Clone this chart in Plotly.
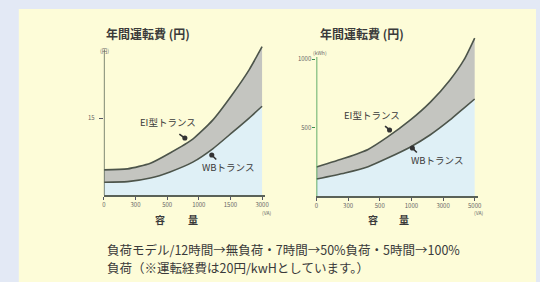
import plotly.graph_objects as go

# ---------------- data ----------------
tick_pos = [0, 1, 2, 3, 4, 5]
left_tick_labels = ["0", "300", "500", "1000", "1500", "3000"]
right_tick_labels = ["0", "300", "500", "1000", "3000", "5000"]

left_x = [0, 0.75, 1.47, 2.09, 2.81, 3.44, 4.06, 4.59, 5.0]
left_ei = [4.9, 5.1, 6.2, 8.2, 10.9, 14.6, 19.6, 24.4, 28.9]
left_wb = [2.5, 2.6, 3.3, 4.5, 6.4, 9.0, 12.2, 15.0, 17.3]

right_x = [0, 0.9, 1.63, 2.25, 2.97, 3.6, 4.22, 4.66, 5.0]
right_ei = [212, 277, 340, 431, 555, 685, 847, 993, 1153]
right_wb = [124, 168, 214, 277, 358, 447, 555, 642, 708]

title_text = "年間運転費 (円)"
ei_name = "EI型トランス"
wb_name = "WBトランス"
note1 = "負荷モデル/12時間→無負荷・7時間→50%負荷・5時間→100%"
note2 = "負荷（※運転経費は20円/kwHとしています。）"

# ---------------- style ----------------
W, H = 540, 282
PAGE = "#e3e9f5"
PANEL = "#fdfcd8"
BLUE = "#dff0f6"
GRAY = "#c4c5c0"
CURVE = "#4d554b"
TXT = "#3a3a3a"
FONT = "Noto Sans CJK JP"


def px(x):
    return x / W


def py(y):
    return 1 - y / H


fig = go.Figure()

for xs, wb, ei, xa, ya in [
    (left_x, left_wb, left_ei, "x", "y"),
    (right_x, right_wb, right_ei, "x2", "y2"),
]:
    fig.add_trace(go.Scatter(x=xs, y=wb, mode="lines", fill="tozeroy",
                             fillcolor=BLUE,
                             line=dict(color=CURVE, width=1.6, shape="spline", smoothing=0.6),
                             xaxis=xa, yaxis=ya, hoverinfo="skip", showlegend=False))
    fig.add_trace(go.Scatter(x=xs, y=ei, mode="lines", fill="tonexty",
                             fillcolor=GRAY,
                             line=dict(color=CURVE, width=1.6, shape="spline", smoothing=0.6),
                             xaxis=xa, yaxis=ya, hoverinfo="skip", showlegend=False))

tickfont = dict(size=6, color="#666", family=FONT)

# left axes: origin x=103, 32 px per unit; y origin 195, 5.13 px/unit
fig.update_layout(
    xaxis=dict(domain=[px(103), px(103 + 5.1 * 32)], range=[0, 5.1],
               tickvals=tick_pos, ticktext=left_tick_labels, ticks="outside",
               ticklen=3, tickcolor="#556", showline=True, linecolor="#5a6258",
               linewidth=1.5, showgrid=False, zeroline=False, tickfont=tickfont,
               fixedrange=True),
    yaxis=dict(domain=[py(195), py(195 - 30 * 5.13)], range=[0, 30],
               tickvals=[15], ticktext=["15"], ticks="outside", ticklen=4,
               tickcolor="#556", showline=False, showgrid=False, zeroline=False,
               tickfont=tickfont, ticklabelstandoff=3, fixedrange=True),
    xaxis2=dict(domain=[px(318), px(318 + 5.1 * 32)], range=[0, 5.1],
                tickvals=tick_pos, ticktext=right_tick_labels, ticks="outside",
                ticklen=3, tickcolor="#556", showline=True, linecolor="#5a6258",
                linewidth=1.5, showgrid=False, zeroline=False, tickfont=tickfont,
                anchor="y2", fixedrange=True),
    yaxis2=dict(domain=[py(196), py(196 - 1180 * 0.137)], range=[0, 1180],
                tickvals=[500, 1000], ticktext=["500", "1000"], ticks="outside",
                ticklen=3, tickcolor="#3f8f4c", showline=False, showgrid=False,
                zeroline=False, tickfont=tickfont, anchor="x2", fixedrange=True),
)

shapes = [
    dict(type="rect", xref="paper", yref="paper", x0=px(17), x1=1, y0=0, y1=py(9),
         fillcolor=PANEL, line=dict(width=0), layer="below"),
    dict(type="line", xref="x", yref="y", x0=0, x1=0, y0=0, y1=28.3,
         line=dict(color="#5f6a5a", width=1.6)),
    dict(type="line", xref="x2", yref="y2", x0=0, x1=0, y0=0, y1=1015,
         line=dict(color="#3f9a4f", width=1.6)),
]

ann = []


def text(x, y, t, size, color=TXT, xanchor="center", bold=False, yanchor="middle"):
    ann.append(dict(x=px(x), y=py(y), xref="paper", yref="paper",
                    text=("<b>%s</b>" % t) if bold else t,
                    showarrow=False, xanchor=xanchor, yanchor=yanchor, align="left",
                    font=dict(size=size, color=color, family=FONT)))


# titles
text(103, 33, title_text, 12, xanchor="left", bold=True)
text(320, 33, title_text, 12, xanchor="left", bold=True)
# axis units
text(104, 51, "(円)", 5.5, color="#666")
text(322, 52, "(kWh)", 5, color="#666")
text(268, 212, "(VA)", 5, color="#666")
text(482, 212, "(VA)", 5, color="#666")
# x axis label
for cx, ch in [(160, "容"), (193, "量"), (375, "容"), (407, "量")]:
    text(cx, 219, ch, 10, bold=True)
# curve labels
text(168, 122, ei_name, 9.5)
text(229, 167, wb_name, 9.5)
text(374, 115, ei_name, 9.5)
text(440, 160, wb_name, 9.5)
# notes
text(104, 249, note1, 12.5, xanchor="left")
text(104, 267, note2, 12.5, xanchor="left")

# pointer ticks
for xr, yr, x, y, ax, ay in [
    ("x", "y", 2.56, 11.1, -7, -5),
    ("x", "y", 3.41, 7.8, 6, 6),
    ("x2", "y2", 2.31, 482, -6, -5),
    ("x2", "y2", 3.03, 350, 6, 6),
]:
    ann.append(dict(x=x, y=y, xref=xr, yref=yr, text="", showarrow=True, ax=ax, ay=ay,
                    arrowhead=6, arrowsize=0.8, arrowwidth=1.6, arrowcolor="#333",
                    standoff=0))

fig.update_layout(
    width=W, height=H, margin=dict(l=0, r=0, t=0, b=0),
    paper_bgcolor=PAGE, plot_bgcolor="rgba(0,0,0,0)",
    shapes=shapes, annotations=ann, showlegend=False,
    font=dict(family=FONT),
)

fig.write_html("out.html", config={"displayModeBar": False},
               post_script="document.body.style.margin='0';document.body.style.background='%s';" % PAGE)
